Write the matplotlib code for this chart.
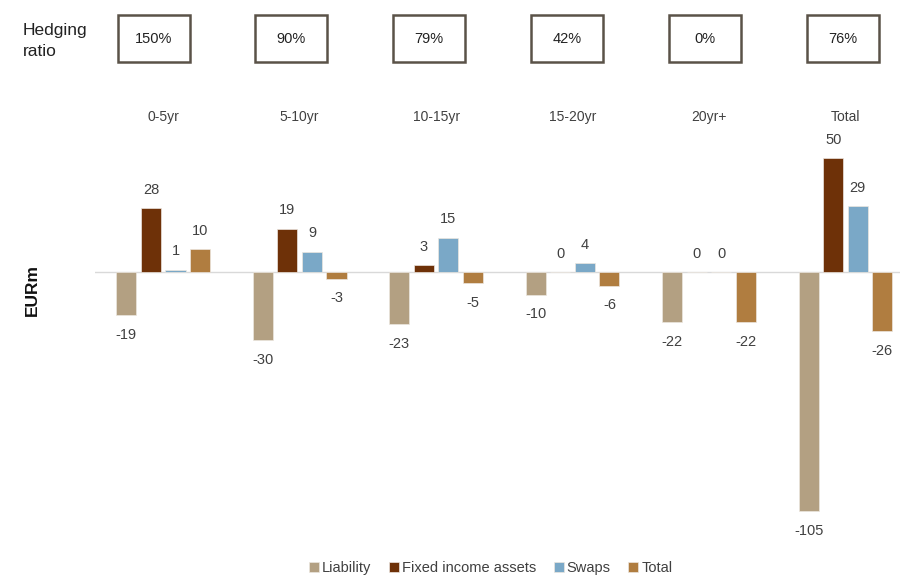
import matplotlib
matplotlib.use('Agg')
from matplotlib import pyplot as plt
from matplotlib.patches import Rectangle
from matplotlib.transforms import blended_transform_factory
import numpy as np

groups = ['0-5yr', '5-10yr', '10-15yr', '15-20yr', '20yr+', 'Total']
hedging = ['150%', '90%', '79%', '42%', '0%', '76%']
series = ['Liability', 'Fixed income assets', 'Swaps', 'Total']
liability = [-19, -30, -23, -10, -22, -105]
fixed_income = [28, 19, 3, 0, 0, 50]
swaps = [1, 9, 15, 4, 0, 29]
total = [10, -3, -5, -6, -22, -26]
colors = ['#b3a082', '#6e3108', '#7aa8c7', '#b07d40']

plt.rcParams['font.family'] = ['Liberation Sans', 'DejaVu Sans']
text_color = '#404040'

fig = plt.figure(figsize=(9, 5.79), dpi=100)
ax = fig.add_axes([95 / 900, 0.102, 805 / 900, 0.639])

x = np.arange(len(groups))
step, width = 0.18, 0.147
for i, (name, vals, col) in enumerate(zip(series, [liability, fixed_income, swaps, total], colors)):
    pos = x + (i - 1.5) * step
    ax.bar(pos, vals, width, color=col, edgecolor='#ece6df', linewidth=0.5, label=name, zorder=2)
    for px, v in zip(pos, vals):
        if v >= 0:
            ax.text(px, v + 5, str(v), ha='center', va='bottom', fontsize=10.5, color=text_color)
        else:
            ax.text(px, v - 5.5, str(v), ha='center', va='top', fontsize=10.5, color=text_color)

ax.axhline(0, color='#d9d9d9', linewidth=1, zorder=1)
ax.set_xlim(-0.5, 5.4)
ax.set_ylim(-108.9, 53.6)
ax.axis('off')

# group labels and hedging ratio boxes
tr = blended_transform_factory(ax.transData, fig.transFigure)
for i, (g, h) in enumerate(zip(groups, hedging)):
    ax.text(i, 1 - 117 / 579, g, transform=tr, ha='center', va='center', fontsize=10, color=text_color)
    cx = i - 0.07 + i * 0.01
    ax.add_patch(Rectangle((cx - 0.264, 1 - 62 / 579), 0.528, 47 / 579, transform=tr,
                           fill=False, edgecolor='#5a5248', linewidth=1.8, clip_on=False))
    ax.text(cx, 1 - 39 / 579, h, transform=tr, ha='center', va='center', fontsize=10.5, color='#222222')

fig.text(23 / 900, 1 - 41 / 579, 'Hedging\nratio', ha='left', va='center', fontsize=12.5,
         color='#222222', linespacing=1.45)
fig.text(32 / 900, 1 - 290 / 579, 'EURm', rotation=90, ha='center', va='center',
         fontsize=12.5, fontweight='bold', color='#111111')

leg = fig.legend(loc='lower center', bbox_to_anchor=(0.545, -0.016), ncol=4, frameon=False,
                 fontsize=10.5, handlelength=0.7, handleheight=0.7, handletextpad=0.2,
                 columnspacing=1.2)
for t in leg.get_texts():
    t.set_color(text_color)

fig.savefig('out.png', dpi=100)
